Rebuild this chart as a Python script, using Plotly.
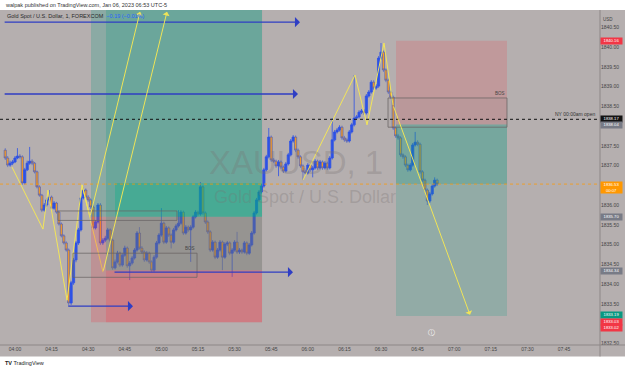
import pandas as pd
import plotly.graph_objects as go

# ---------------- data ----------------
first_candle = "2023-01-06 03:56"
first_open = 1837.39
closes = [1837.19, 1837.01, 1837.06, 1837.09, 1837.19, 1837.24, 1837.22, 1836.56, 1836.89, 1837.06,
          1837.11, 1837.06, 1836.84, 1836.46, 1836.25, 1835.87, 1836.00, 1836.13, 1836.20, 1835.92,
          1836.05, 1835.82, 1835.52, 1835.22, 1835.04, 1834.86, 1833.52, 1834.03, 1834.61, 1835.04,
          1835.37, 1836.18, 1836.38, 1836.20, 1836.13, 1835.95, 1835.42, 1835.57, 1836.00, 1835.04,
          1835.11, 1835.16, 1835.37, 1835.11, 1834.41, 1834.56, 1834.78, 1834.48, 1834.73, 1834.91,
          1834.46, 1834.53, 1834.66, 1834.86, 1835.29, 1834.91, 1834.81, 1834.61, 1834.78, 1834.56,
          1834.35, 1834.68, 1835.04, 1835.24, 1835.54, 1835.06, 1835.42, 1835.24, 1835.06, 1835.37,
          1835.47, 1835.54, 1835.82, 1835.29, 1835.44, 1835.37, 1835.44, 1835.70, 1835.82, 1835.77,
          1836.46, 1835.80, 1835.57, 1835.32, 1834.86, 1835.06, 1834.68, 1834.86, 1835.06, 1834.68,
          1835.01, 1835.04, 1834.78, 1834.86, 1835.06, 1834.81, 1834.86, 1834.81, 1835.04, 1834.78,
          1834.99, 1835.29, 1835.80, 1836.13, 1836.33, 1836.48, 1836.89, 1837.22, 1837.72, 1837.14,
          1837.11, 1836.99, 1837.09, 1836.96, 1836.86, 1837.04, 1837.27, 1837.62, 1837.72, 1837.39,
          1837.22, 1836.99, 1836.84, 1836.81, 1837.01, 1836.89, 1836.94, 1837.11, 1836.94, 1837.09,
          1836.94, 1837.06, 1836.94, 1837.19, 1837.65, 1837.85, 1837.90, 1837.97, 1837.70, 1837.65,
          1837.62, 1837.85, 1838.03, 1838.20, 1838.23, 1838.35, 1838.38, 1838.33, 1838.76, 1838.86,
          1839.11, 1838.96, 1839.01, 1839.72, 1839.87, 1839.42, 1839.16, 1838.86, 1838.73, 1837.95,
          1837.75, 1837.70, 1837.27, 1837.22, 1837.01, 1836.89, 1837.01, 1837.52, 1837.59, 1837.54,
          1836.84, 1836.63, 1836.38, 1836.10, 1836.28, 1836.48, 1836.63, 1836.53]
highs = [1837.44, 1837.24, 1837.12, 1837.14, 1837.24, 1837.44, 1837.29, 1837.26, 1836.94, 1837.12,
         1837.47, 1837.16, 1837.09, 1836.87, 1836.50, 1836.28, 1836.05, 1836.18, 1836.38, 1836.24,
         1836.10, 1836.08, 1835.85, 1835.56, 1835.26, 1835.08, 1834.90, 1834.08, 1834.66, 1835.09,
         1835.42, 1836.23, 1836.44, 1836.42, 1836.25, 1836.17, 1835.99, 1835.62, 1836.05, 1836.05,
         1835.16, 1835.22, 1835.42, 1835.41, 1835.15, 1834.62, 1834.84, 1834.82, 1834.78, 1834.97,
         1834.95, 1834.58, 1834.71, 1834.91, 1835.34, 1835.44, 1834.96, 1834.85, 1834.83, 1834.82,
         1834.60, 1834.73, 1835.09, 1835.29, 1835.92, 1835.58, 1835.47, 1835.46, 1835.28, 1835.42,
         1835.52, 1835.87, 1835.87, 1835.86, 1835.49, 1835.48, 1835.49, 1835.75, 1835.87, 1835.86,
         1836.58, 1836.50, 1835.84, 1835.61, 1835.36, 1835.11, 1835.10, 1834.91, 1835.11, 1835.10,
         1835.06, 1835.09, 1835.08, 1834.91, 1835.11, 1835.32, 1834.91, 1834.90, 1835.09, 1835.08,
         1835.04, 1835.34, 1835.85, 1836.18, 1836.38, 1836.53, 1836.94, 1837.27, 1837.95, 1837.76,
         1837.19, 1837.15, 1837.14, 1837.13, 1837.00, 1837.09, 1837.32, 1837.67, 1837.77, 1837.76,
         1837.43, 1837.26, 1837.03, 1836.89, 1837.06, 1837.05, 1836.99, 1837.16, 1837.15, 1837.14,
         1837.13, 1837.11, 1837.10, 1837.24, 1838.20, 1837.90, 1837.95, 1838.02, 1838.01, 1837.75,
         1837.70, 1837.90, 1838.08, 1839.29, 1838.28, 1838.40, 1838.43, 1838.43, 1838.81, 1838.91,
         1839.16, 1839.16, 1839.06, 1839.77, 1840.10, 1839.91, 1839.46, 1839.20, 1838.90, 1838.77,
         1837.99, 1837.80, 1837.74, 1837.31, 1837.26, 1837.05, 1837.06, 1837.57, 1837.85, 1837.64,
         1837.58, 1836.88, 1836.67, 1836.42, 1836.33, 1836.53, 1836.70, 1836.67]
lows = [1837.14, 1836.96, 1836.97, 1837.01, 1837.06, 1837.16, 1837.17, 1836.51, 1836.52, 1836.86,
        1837.02, 1837.01, 1836.80, 1836.42, 1836.21, 1835.82, 1835.83, 1835.96, 1836.09, 1835.88,
        1835.88, 1835.78, 1835.48, 1835.18, 1835.00, 1834.82, 1833.42, 1833.47, 1833.98, 1834.55,
        1834.99, 1835.33, 1836.14, 1836.16, 1836.08, 1835.90, 1835.38, 1835.38, 1835.53, 1834.99,
        1834.99, 1835.06, 1835.12, 1835.06, 1834.36, 1834.37, 1834.52, 1834.43, 1834.44, 1834.69,
        1834.41, 1834.10, 1834.49, 1834.62, 1834.82, 1834.87, 1834.76, 1834.56, 1834.57, 1834.51,
        1834.30, 1834.31, 1834.64, 1835.00, 1835.20, 1835.01, 1835.02, 1835.19, 1834.90, 1835.02,
        1835.33, 1835.43, 1835.50, 1835.24, 1835.25, 1835.32, 1834.56, 1835.40, 1835.66, 1835.72,
        1835.73, 1835.75, 1835.52, 1835.27, 1834.81, 1834.82, 1834.63, 1834.64, 1834.82, 1834.35,
        1834.64, 1834.96, 1834.73, 1834.18, 1834.82, 1834.76, 1834.76, 1834.76, 1834.77, 1834.73,
        1834.74, 1834.95, 1835.25, 1835.76, 1836.09, 1836.29, 1836.44, 1836.85, 1837.18, 1837.09,
        1837.06, 1836.94, 1836.73, 1836.91, 1836.81, 1836.82, 1837.00, 1837.23, 1837.58, 1837.34,
        1837.17, 1836.94, 1836.63, 1836.76, 1836.77, 1836.84, 1836.70, 1836.90, 1836.89, 1836.90,
        1836.89, 1836.90, 1836.89, 1836.90, 1837.15, 1837.61, 1837.81, 1837.86, 1837.65, 1837.60,
        1837.57, 1837.58, 1837.81, 1837.99, 1838.15, 1838.19, 1838.30, 1838.28, 1838.29, 1838.72,
        1838.82, 1838.91, 1838.92, 1838.97, 1839.68, 1839.37, 1839.11, 1838.81, 1838.68, 1837.90,
        1837.70, 1837.65, 1837.22, 1837.17, 1836.96, 1836.84, 1836.85, 1836.97, 1837.48, 1837.49,
        1836.79, 1836.58, 1836.33, 1836.00, 1836.05, 1836.24, 1836.44, 1836.48]

time_ticks = ["04:00", "04:15", "04:30", "04:45", "05:00", "05:15", "05:30", "05:45",
              "06:00", "06:15", "06:30", "06:45", "07:00", "07:15", "07:30", "07:45"]
# scale labels that are not hidden behind a price badge
price_ticks = [1832.50, 1833.50, 1834.00, 1834.50, 1835.00, 1835.50, 1836.00,
               1837.00, 1837.50, 1838.50, 1839.00, 1839.50, 1840.00, 1840.50]
x_range = ["2023-01-06 03:53:51", "2023-01-06 07:59:45"]
y_range = [1832.456, 1840.937]

current_price = 1836.53
ny_open_price = 1838.17

# position tools: (start, end, entry, stop, target)
long_a = ["2023-01-06 04:31:09", "2023-01-06 05:41:14", 1835.70, 1833.03, 1841.50]
long_b = ["2023-01-06 04:37:17", "2023-01-06 05:41:14", 1834.34, 1833.03, 1841.50]
long_a_progress = ["2023-01-06 04:40:59", "2023-01-06 05:41:14", 1835.70, 1836.56]
short_c = ["2023-01-06 06:36:09", "2023-01-06 07:21:38", 1838.04, 1840.16, 1833.19]

# grey rectangles: (start, end, top, bottom, label)
boxes = [["2023-01-06 04:17:37", "2023-01-06 05:06:23", 1835.85, 1835.61, ""],
         ["2023-01-06 04:23:45", "2023-01-06 05:14:36", 1834.78, 1834.17, "BOS"],
         ["2023-01-06 06:32:52", "2023-01-06 07:21:38", 1838.71, 1837.97, "BOS"]]

# blue horizontal arrows: (start, end, price)
blue_arrows = [["2023-01-06 03:55:08", "2023-01-06 05:56:48", 1840.63],
               ["2023-01-06 03:55:08", "2023-01-06 05:55:59", 1838.81],
               ["2023-01-06 04:40:10", "2023-01-06 05:53:56", 1834.30],
               ["2023-01-06 04:21:19", "2023-01-06 04:48:22", 1833.44]]

# yellow zig-zag paths (last segment ends in an arrow)
path1_t = ["2023-01-06 03:58:46", "2023-01-06 04:11:28", "2023-01-06 04:13:31", "2023-01-06 04:21:19",
           "2023-01-06 04:27:28", "2023-01-06 04:36:04", "2023-01-06 05:02:17"]
path1_p = [1836.96, 1835.39, 1836.38, 1833.59, 1836.51, 1834.30, 1840.89]
path2_t = ["2023-01-06 04:27:28", "2023-01-06 04:30:44", "2023-01-06 04:51:14"]
path2_p = [1836.51, 1835.70, 1840.89]
path3_t = ["2023-01-06 05:58:02", "2023-01-06 06:19:20", "2023-01-06 06:24:16", "2023-01-06 06:31:14",
           "2023-01-06 06:34:55", "2023-01-06 07:06:28"]
path3_p = [1836.63, 1839.29, 1838.03, 1840.10, 1838.53, 1833.22]

# price badges on the right scale: (price, text, background, text colour)
badges = [[1840.16, "1840.16", "#f23645", "white"],
          [1838.19, "1838.17", "#131313", "white"],
          [1838.02, "1838.04", "#787b86", "white"],
          [1835.70, "1835.70", "#787b86", "white"],
          [1834.34, "1834.34", "#787b86", "white"],
          [1833.22, "1833.19", "#089981", "white"],
          [1833.05, "1833.03", "#f23645", "white"],
          [1832.88, "1833.02", "#f23645", "white"]]

# ---------------- figure ----------------
W, H = 625, 370
ML, MR, MT, MB = 0, 25, 10, 25
PW, PH = W - ML - MR, H - MT - MB
BG = "#b5afaf"
FONT = "Liberation Sans"


def px(xp):
    return (xp - ML) / PW


def py(yp):
    return 1 - (yp - MT) / PH


times = pd.date_range(first_candle, periods=len(closes), freq="min")
opens = [first_open] + closes[:-1]

fig = go.Figure()
fig.add_trace(go.Candlestick(
    x=times, open=opens, high=highs, low=lows, close=closes,
    increasing=dict(line=dict(color="#2d52e6", width=0.8), fillcolor="#2d52e6"),
    decreasing=dict(line=dict(color="#4258c4", width=0.6), fillcolor="#f39a26"),
    whiskerwidth=0, showlegend=False, hoverinfo="skip"))

yellow = "rgba(246,232,84,0.95)"
for tt, pp in [(path1_t, path1_p), (path2_t, path2_p), (path3_t, path3_p)]:
    fig.add_trace(go.Scatter(x=tt[:-1], y=pp[:-1], mode="lines",
                             line=dict(color=yellow, width=1), showlegend=False, hoverinfo="skip"))

shapes = []
green = "rgba(8,153,129,0.24)"
red = "rgba(242,54,69,0.24)"
for pos in [long_a, long_b]:
    s, e, entry, stop, target = pos
    shapes.append(dict(type="rect", xref="x", yref="y", x0=s, x1=e, y0=entry, y1=target,
                       fillcolor=green, line=dict(width=0), layer="above"))
    shapes.append(dict(type="rect", xref="x", yref="y", x0=s, x1=e, y0=stop, y1=entry,
                       fillcolor=red, line=dict(width=0), layer="above"))
s, e, lo, hi = long_a_progress
shapes.append(dict(type="rect", xref="x", yref="y", x0=s, x1=e, y0=lo, y1=hi,
                   fillcolor="rgba(0,180,135,0.33)", line=dict(width=0), layer="above"))
s, e, entry, stop, target = short_c
shapes.append(dict(type="rect", xref="x", yref="y", x0=s, x1=e, y0=entry, y1=stop,
                   fillcolor="rgba(242,54,69,0.18)", line=dict(width=0), layer="above"))
shapes.append(dict(type="rect", xref="x", yref="y", x0=s, x1=e, y0=target, y1=entry,
                   fillcolor="rgba(8,153,129,0.2)", line=dict(width=0), layer="above"))
shapes.append(dict(type="rect", xref="x", yref="y", x0=s, x1=e, y0=current_price, y1=entry,
                   fillcolor="rgba(8,153,129,0.2)", line=dict(width=0), layer="above"))

for s, e, top, bot, lab in boxes:
    shapes.append(dict(type="rect", xref="x", yref="y", x0=s, x1=e, y0=bot, y1=top,
                       fillcolor="rgba(150,150,150,0.12)",
                       line=dict(color="rgba(105,100,100,0.75)", width=1), layer="above"))

# price lines
shapes.append(dict(type="line", xref="paper", yref="y", x0=0, x1=1, y0=ny_open_price, y1=ny_open_price,
                   line=dict(color="#111", width=1, dash="dot"), layer="above"))
shapes.append(dict(type="line", xref="paper", yref="y", x0=0, x1=1, y0=current_price, y1=current_price,
                   line=dict(color="rgba(255,152,0,0.75)", width=1, dash="dot"), layer="above"))

# white header/footer strips and axis separators
shapes.append(dict(type="rect", xref="paper", yref="paper", x0=-0.02, x1=1.06, y0=1, y1=py(-2),
                   fillcolor="white", line=dict(width=0), layer="below"))
shapes.append(dict(type="rect", xref="paper", yref="paper", x0=-0.02, x1=1.06, y0=py(356.5), y1=py(372),
                   fillcolor="white", line=dict(width=0), layer="below"))
shapes.append(dict(type="line", xref="paper", yref="paper", x0=1, x1=1, y0=py(356.5), y1=1,
                   line=dict(color="#8d8787", width=1), layer="above"))
shapes.append(dict(type="line", xref="paper", yref="paper", x0=0, x1=px(625), y0=0, y1=0,
                   line=dict(color="#8d8787", width=1), layer="above"))

ann = []
# watermark
ann.append(dict(xref="paper", yref="paper", x=px(296), y=py(162), text="XAUUSD, 1", showarrow=False,
                font=dict(family=FONT, size=33, color="rgba(120,114,114,0.30)")))
ann.append(dict(xref="paper", yref="paper", x=px(305), y=py(197), text="Gold Spot / U.S. Dollar",
                showarrow=False, font=dict(family=FONT, size=18, color="rgba(120,114,114,0.30)")))

# blue arrows
for s, e, p in blue_arrows:
    ann.append(dict(x=e, y=p, xref="x", yref="y", ax=s, ay=p, axref="x", ayref="y", text="",
                    showarrow=True, arrowhead=1, arrowsize=1.3, arrowwidth=1.3, arrowcolor="#2f3ec4"))
# yellow arrows (last segments)
for tt, pp in [(path1_t, path1_p), (path2_t, path2_p), (path3_t, path3_p)]:
    ann.append(dict(x=tt[-1], y=pp[-1], xref="x", yref="y", ax=tt[-2], ay=pp[-2], axref="x", ayref="y",
                    text="", showarrow=True, arrowhead=1, arrowsize=1.2, arrowwidth=1, arrowcolor=yellow))

# box labels
for s, e, top, bot, lab in boxes:
    if lab:
        ann.append(dict(x=e, y=top, xref="x", yref="y", text=lab, showarrow=False, xanchor="right",
                        yanchor="bottom", font=dict(family=FONT, size=4.5, color="#444")))

ann.append(dict(xref="paper", yref="y", x=px(597), y=ny_open_price, text="NY 00:00am open", showarrow=False,
                xanchor="right", yanchor="bottom", font=dict(family=FONT, size=5, color="#333")))

# badges
for p, t, bg, fc in badges:
    ann.append(dict(xref="paper", yref="y", x=1, y=p, text=t, showarrow=False, xanchor="left",
                    yanchor="middle", bgcolor=bg, width=21, height=5.5, borderpad=0, xshift=0,
                    font=dict(family=FONT, size=4.2, color=fc)))
ann.append(dict(xref="paper", yref="y", x=1, y=current_price, text=f"{current_price:.2f}<br>00:07",
                showarrow=False, xanchor="left", yanchor="top", yshift=3, bgcolor="#ff9800", width=21,
                height=11, borderpad=0, font=dict(family=FONT, size=4.2, color="white")))
ann.append(dict(xref="paper", yref="paper", x=px(601), y=py(15), text="USD", showarrow=False,
                xanchor="left", font=dict(family=FONT, size=4.5, color="#444")))

# header and footer texts
ann.append(dict(xref="paper", yref="paper", x=px(3), y=py(5), text="walpak published on TradingView.com, Jan 06, 2023 06:53 UTC-5",
                showarrow=False, xanchor="left", yanchor="middle", font=dict(family=FONT, size=5.5, color="#333")))
ann.append(dict(xref="paper", yref="paper", x=px(5), y=py(16),
                text="Gold Spot / U.S. Dollar, 1, FOREXCOM  <span style='color:#2962ff'>\u22120.19 (\u22120.01%)</span>",
                showarrow=False, xanchor="left", yanchor="middle", font=dict(family=FONT, size=5.5, color="#2a2a2a")))
ann.append(dict(xref="paper", yref="paper", x=px(3), y=py(363), text="<b>TV</b> TradingView",
                showarrow=False, xanchor="left", yanchor="middle", font=dict(family=FONT, size=5.5, color="#222")))
ann.append(dict(xref="paper", yref="paper", x=px(437), y=py(339), text="\u24d8", showarrow=False,
                font=dict(family="DejaVu Sans", size=7, color="#fff")))

fig.update_layout(
    width=W, height=H, margin=dict(l=ML, r=MR, t=MT, b=MB),
    paper_bgcolor=BG, plot_bgcolor=BG, boxgap=0.12, boxgroupgap=0,
    shapes=shapes, annotations=ann, showlegend=False, hovermode=False,
    xaxis=dict(range=x_range, rangeslider=dict(visible=False), showgrid=False, zeroline=False,
               tickvals=["2023-01-06 " + t for t in time_ticks], ticktext=time_ticks,
               ticks="", tickfont=dict(family=FONT, size=5, color="#444"), showline=False),
    yaxis=dict(range=y_range, side="right", showgrid=False, zeroline=False,
               tickvals=price_ticks, ticktext=[f"{v:.2f}" for v in price_ticks],
               ticks="", tickfont=dict(family=FONT, size=5, color="#444"), showline=False),
)

fig.write_html("out.html")
